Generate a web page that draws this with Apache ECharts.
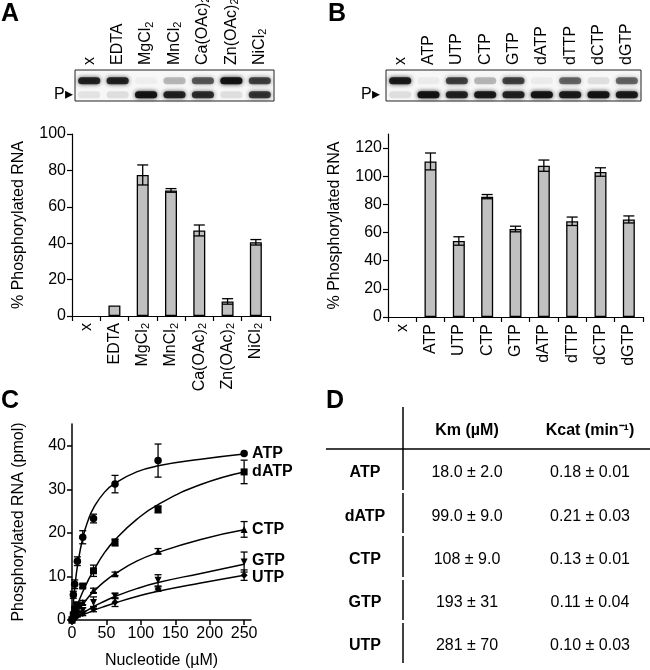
<!DOCTYPE html>
<html><head><meta charset="utf-8">
<script src="https://cdn.jsdelivr.net/npm/echarts@6/dist/echarts.min.js"></script>
<style>html,body{margin:0;padding:0;background:#fff}#c{width:650px;height:670px}</style>
</head><body><div id="c"></div><script>
const FONT = '"Liberation Sans", Arial, Helvetica, sans-serif';

// ---------- Panel A ----------
const lanesA = ['x', 'EDTA', 'MgCl₂', 'MnCl₂', 'Ca(OAc)₂', 'Zn(OAc)₂', 'NiCl₂'];
const gelUpperA = [0.85, 0.85, 0.04, 0.25, 0.6, 0.95, 0.7];
const gelLowerA = [0.08, 0.1, 0.95, 0.85, 0.8, 0.1, 0.75];
const valuesA = [0, 5.8, 77.5, 69, 47, 8, 40.5];
const errorsA = [0, 0, 5.5, 1, 3, 1.5, 1.5];
const ticksA = [0, 20, 40, 60, 80, 100];

// ---------- Panel B ----------
const lanesB = ['x', 'ATP', 'UTP', 'CTP', 'GTP', 'dATP', 'dTTP', 'dCTP', 'dGTP'];
const gelUpperB = [0.9, 0.05, 0.7, 0.25, 0.7, 0.05, 0.55, 0.1, 0.55];
const gelLowerB = [0.1, 0.95, 0.85, 0.9, 0.85, 0.95, 0.9, 0.95, 0.9];
const valuesB = [0, 110.5, 54, 85.5, 62.5, 107.5, 68, 103, 69.3];
const errorsB = [0, 6, 3, 1.5, 2, 4, 3, 3, 2.5];
const ticksB = [0, 20, 40, 60, 80, 100, 120];

// ---------- Panel C ----------
const nucleotidesC = ['ATP', 'dATP', 'CTP', 'GTP', 'UTP'];
const concC = [0, 1.95, 3.9, 7.8, 15.6, 31.25, 62.5, 125, 250];
const meanATP  = [0, 5.8, 8.2, 13.5, 19.0, 23.3, 31.2, 36.6, 38.2];
const errATP   = [0, 0.8, 1.0, 1.0, 1.5, 1.0, 2.0, 3.8, 0];
const meanDATP = [0, 1.2, 2.5, 3.5, 7.8, 11.3, 17.8, 25.4, 34.0];
const errDATP  = [0, 0.3, 0.5, 0.5, 0.4, 1.3, 0.8, 0.8, 2.7];
const meanCTP  = [0, 0.7, 1.3, 2.4, 4.0, 6.8, 10.6, 15.8, 20.8];
const errCTP   = [0, 0.2, 0.3, 0.4, 0.5, 0.5, 0.4, 0.6, 1.8];
const meanGTP  = [0, 0.4, 0.8, 1.4, 2.2, 4.0, 5.5, 9.1, 13.3];
const errGTP   = [0, 0.2, 0.3, 0.4, 0.6, 1.3, 0.6, 1.3, 2.3];
const meanUTP  = [0, 0.3, 0.6, 1.0, 1.5, 2.5, 4.1, 7.1, 10.3];
const errUTP   = [0, 0.2, 0.2, 0.3, 0.5, 0.6, 1.0, 0.5, 1.2];
const fitX     = [0, 2, 4, 8, 16, 24, 31.25, 47, 62.5, 94, 125, 187, 250];
const fitATP   = [0, 4.05, 7.36, 12.46, 19.06, 23.14, 25.7, 29.3, 31.4, 34.0, 35.4, 36.9, 38.1];
const fitDATP  = [0, 0.94, 1.84, 3.55, 6.6, 9.27, 11.36, 15.4, 18.4, 23.1, 26.5, 31.1, 34.0];
const fitCTP   = [0, 0.53, 1.04, 2.0, 3.6, 5.3, 6.5, 8.8, 10.6, 13.5, 15.5, 18.5, 20.7];
const fitGTP   = [0, 0.23, 0.45, 0.88, 1.7, 2.4, 3.1, 4.3, 5.4, 7.2, 8.6, 10.7, 12.8];
const fitUTP   = [0, 0.15, 0.3, 0.6, 1.2, 1.7, 2.2, 3.1, 3.9, 5.4, 6.6, 8.5, 10.3];
const ticksCx = [0, 50, 100, 150, 200, 250];
const ticksCy = [0, 10, 20, 30, 40];

// ---------- Panel D ----------
const tableHeaders = ['Km (µM)', 'Kcat (min⁻¹)'];
const tableRows = ['ATP', 'dATP', 'CTP', 'GTP', 'UTP'];
const tableKm = ['18.0 ± 2.0', '99.0 ± 9.0', '108 ± 9.0', '193 ± 31', '281 ± 70'];
const tableKcat = ['0.18 ± 0.01', '0.21 ± 0.03', '0.13 ± 0.01', '0.11 ± 0.04', '0.10 ± 0.03'];

const symbolsC = {ATP: 'circle', dATP: 'rect', CTP: 'triangle', GTP: 'triangle', UTP: 'diamond'};
const symRotC = {ATP: 0, dATP: 0, CTP: 0, GTP: 180, UTP: 0};
const labelOffC = {ATP: [0, 0], dATP: [0, 0], CTP: [0, 0], GTP: [0, -4], UTP: [0, 2]};
const dataC = {
  ATP: [meanATP, errATP, fitATP], dATP: [meanDATP, errDATP, fitDATP],
  CTP: [meanCTP, errCTP, fitCTP], GTP: [meanGTP, errGTP, fitGTP], UTP: [meanUTP, errUTP, fitUTP]
};

const chart = echarts.init(document.getElementById('c'), null, {renderer: 'canvas'});

function gelItem(params, api) {
  const i = api.value(0);
  const up = api.value(1), lo = api.value(2);
  const pu = api.coord([i, 0.65]);
  const pl = api.coord([i, 0.2]);
  const w = api.size([1, 0])[0] * 0.78;
  const mk = (p, v) => ({
    type: 'rect',
    shape: {x: p[0] - w / 2, y: p[1] - 3.5, width: w, height: 7, r: 3.5},
    style: {fill: 'rgba(15,15,15,' + v + ')', shadowBlur: 4, shadowColor: 'rgba(15,15,15,' + v + ')'}
  });
  return {type: 'group', children: [mk(pu, up), mk(pl, lo)]};
}

function errItem(cap) {
  return function (params, api) {
    const x = api.value(0), v = api.value(1), e = api.value(2);
    if (!e) return null;
    const top = api.coord([x, v + e]);
    const bot = api.coord([x, v - e]);
    const st = {stroke: '#000', lineWidth: 1.3};
    return {type: 'group', children: [
      {type: 'line', shape: {x1: top[0], y1: top[1], x2: bot[0], y2: bot[1]}, style: st},
      {type: 'line', shape: {x1: top[0] - cap, y1: top[1], x2: top[0] + cap, y2: top[1]}, style: st},
      {type: 'line', shape: {x1: bot[0] - cap, y1: bot[1], x2: bot[0] + cap, y2: bot[1]}, style: st}
    ]};
  };
}

// turn "MgCl₂" into rich text with a real subscript
function subFmt(v) {
  const parts = String(v).split('₂');
  let out = '';
  parts.forEach((p, i) => {
    if (p) out += '{a|' + p + '}';
    if (i < parts.length - 1) out += '{s|2}';
  });
  return out;
}
const richSub = {
  a: {fontSize: 16, fontFamily: FONT, color: '#000'},
  s: {fontSize: 11, fontFamily: FONT, color: '#000', padding: [7, 0, 0, 0]}
};

const axisBlack = {lineStyle: {color: '#000', width: 1.2}};
const labelStyle = {color: '#000', fontSize: 16, fontFamily: FONT};

function gelAxes(lanes, gi) {
  return {
    x: {type: 'category', gridIndex: gi, data: lanes, position: 'top',
        axisLine: {show: false}, axisTick: {show: false},
        axisLabel: Object.assign({rotate: 90, margin: 5, interval: 0, formatter: subFmt, rich: richSub}, labelStyle)},
    y: {type: 'value', gridIndex: gi, min: 0, max: 1, show: false}
  };
}

function barAxes(lanes, gi, max, ticks) {
  return {
    x: {type: 'category', gridIndex: gi, data: lanes,
        axisLine: axisBlack, axisTick: {show: true, length: 5, lineStyle: {color: '#000', width: 1.2}},
        axisLabel: Object.assign({rotate: 90, margin: 7, interval: 0, formatter: subFmt, rich: richSub}, labelStyle)},
    y: {type: 'value', gridIndex: gi, min: 0, max: max,
        name: '% Phosphorylated RNA', nameLocation: 'middle', nameGap: 45,
        nameTextStyle: {fontSize: 16, fontFamily: FONT, color: '#000'},
        axisLine: {show: true, lineStyle: {color: '#000', width: 1.2}},
        axisTick: {show: true, length: 5, customValues: ticks, lineStyle: {color: '#000', width: 1.2}},
        axisLabel: Object.assign({customValues: ticks, margin: 6}, labelStyle),
        splitLine: {show: false}}
  };
}

const gA = gelAxes(lanesA, 0), bA = barAxes(lanesA, 1, 100, ticksA);
const gB = gelAxes(lanesB, 2), bB = barAxes(lanesB, 3, 130, ticksB);

const xAxes = [gA.x, bA.x, gB.x, bB.x, {
  type: 'value', gridIndex: 4, min: 0, max: 260,
  name: 'Nucleotide (µM)', nameLocation: 'middle', nameGap: 33,
  nameTextStyle: {fontSize: 16, fontFamily: FONT, color: '#000'},
  axisLine: {show: true, lineStyle: {color: '#000', width: 1.5}},
  axisTick: {show: true, length: 5, customValues: ticksCx, lineStyle: {color: '#000', width: 1.5}},
  axisLabel: Object.assign({customValues: ticksCx, margin: 6}, labelStyle),
  splitLine: {show: false}
}];
const yAxes = [gA.y, bA.y, gB.y, bB.y, {
  type: 'value', gridIndex: 4, min: 0, max: 45,
  name: 'Phosphorylated RNA (pmol)', nameLocation: 'middle', nameGap: 45,
  nameTextStyle: {fontSize: 16, fontFamily: FONT, color: '#000'},
  axisLine: {show: true, lineStyle: {color: '#000', width: 1.5}},
  axisTick: {show: true, length: 5, customValues: ticksCy, lineStyle: {color: '#000', width: 1.5}},
  axisLabel: Object.assign({customValues: ticksCy, margin: 6}, labelStyle),
  splitLine: {show: false}
}];

const series = [];
function addBarPanel(lanes, up, lo, vals, errs, gelIdx, barIdx) {
  series.push({
    type: 'custom', xAxisIndex: gelIdx, yAxisIndex: gelIdx, renderItem: gelItem,
    data: lanes.map((l, i) => [i, up[i], lo[i]]), silent: true
  });
  series.push({
    type: 'bar', xAxisIndex: barIdx, yAxisIndex: barIdx, barWidth: 12,
    data: vals.map(v => ({value: v, itemStyle: {borderWidth: v ? 1.3 : 0}})),
    itemStyle: {color: '#c0c0c0', borderColor: '#000', borderWidth: 1.3}
  });
  series.push({
    type: 'custom', xAxisIndex: barIdx, yAxisIndex: barIdx, renderItem: errItem(5.5),
    data: vals.map((v, i) => [i, v, errs[i]]), z: 5
  });
}
addBarPanel(lanesA, gelUpperA, gelLowerA, valuesA, errorsA, 0, 1);
addBarPanel(lanesB, gelUpperB, gelLowerB, valuesB, errorsB, 2, 3);

nucleotidesC.forEach(n => {
  const [mean, err, fit] = dataC[n];
  series.push({
    type: 'line', name: n, xAxisIndex: 4, yAxisIndex: 4, smooth: true, showSymbol: false,
    data: fitX.map((x, i) => [x, fit[i]]),
    lineStyle: {color: '#000', width: 1.5},
    endLabel: {show: true, formatter: n, distance: 8, offset: labelOffC[n],
      fontSize: 16, fontWeight: 'bold', fontFamily: FONT, color: '#000'}
  });
  series.push({
    type: 'scatter', xAxisIndex: 4, yAxisIndex: 4, symbol: symbolsC[n], symbolRotate: symRotC[n],
    symbolSize: n === 'ATP' ? 7.5 : 7,
    data: concC.map((x, i) => [x, mean[i]]),
    itemStyle: {color: '#000', opacity: 1}, z: 4
  });
  series.push({
    type: 'custom', xAxisIndex: 4, yAxisIndex: 4, renderItem: errItem(3.5),
    data: concC.map((x, i) => [x, mean[i], err[i]]), z: 5
  });
});

// graphic: panel letters, P markers, table
const graphic = [];
const letter = (t, x, y) => ({type: 'text', left: x, top: y,
  style: {text: t, fontSize: 25, fontWeight: 'bold', fontFamily: FONT, fill: '#000'}});
graphic.push(letter('A', 1, 2), letter('B', 328, 2), letter('C', 1, 389), letter('D', 326, 389));
const pMark = (x, y) => ({type: 'text', left: x, top: y,
  style: {text: 'P▸', fontSize: 16, fontFamily: FONT, fill: '#000'}});
graphic.push(pMark(54, 87), pMark(361, 87));

const lineSt = {stroke: '#000', lineWidth: 1.5};
graphic.push({type: 'line', shape: {x1: 326, y1: 449, x2: 650, y2: 449}, style: lineSt});
[[407, 490], [493, 533], [536, 577], [580, 620], [623, 663]].forEach(s => {
  graphic.push({type: 'line', shape: {x1: 403, y1: s[0], x2: 403, y2: s[1]}, style: lineSt});
});
const colX = [365, 467, 590];
const rowY = [473, 517, 560, 603, 646];
const txt = (t, x, y, bold) => ({type: 'text', x: x, y: y,
  style: {text: t, x: 0, y: 0, align: 'center', verticalAlign: 'middle',
    fontSize: 16, fontWeight: bold ? 'bold' : 'normal', fontFamily: FONT, fill: '#000'}});
graphic.push(txt(tableHeaders[0], colX[1], 431, true), txt(tableHeaders[1], colX[2], 431, true));
tableRows.forEach((r, i) => {
  graphic.push(txt(r, colX[0], rowY[i], true));
  graphic.push(txt(tableKm[i], colX[1], rowY[i], false));
  graphic.push(txt(tableKcat[i], colX[2], rowY[i], false));
});

chart.setOption({
  animation: false,
  backgroundColor: '#fff',
  textStyle: {fontFamily: FONT},
  grid: [
    {left: 75, top: 70, width: 199, height: 31, show: true, backgroundColor: '#f7f7f7', borderColor: '#222', borderWidth: 1, outerBoundsMode: 'none'},
    {left: 72, top: 134, width: 198, height: 182, outerBoundsMode: 'none'},
    {left: 386, top: 70, width: 255, height: 31, show: true, backgroundColor: '#f7f7f7', borderColor: '#222', borderWidth: 1, outerBoundsMode: 'none'},
    {left: 388, top: 134, width: 255, height: 183, outerBoundsMode: 'none'},
    {left: 72, top: 424, width: 179, height: 196, outerBoundsMode: 'none'}
  ],
  xAxis: xAxes,
  yAxis: yAxes,
  series: series,
  graphic: graphic
});
</script></body></html>
